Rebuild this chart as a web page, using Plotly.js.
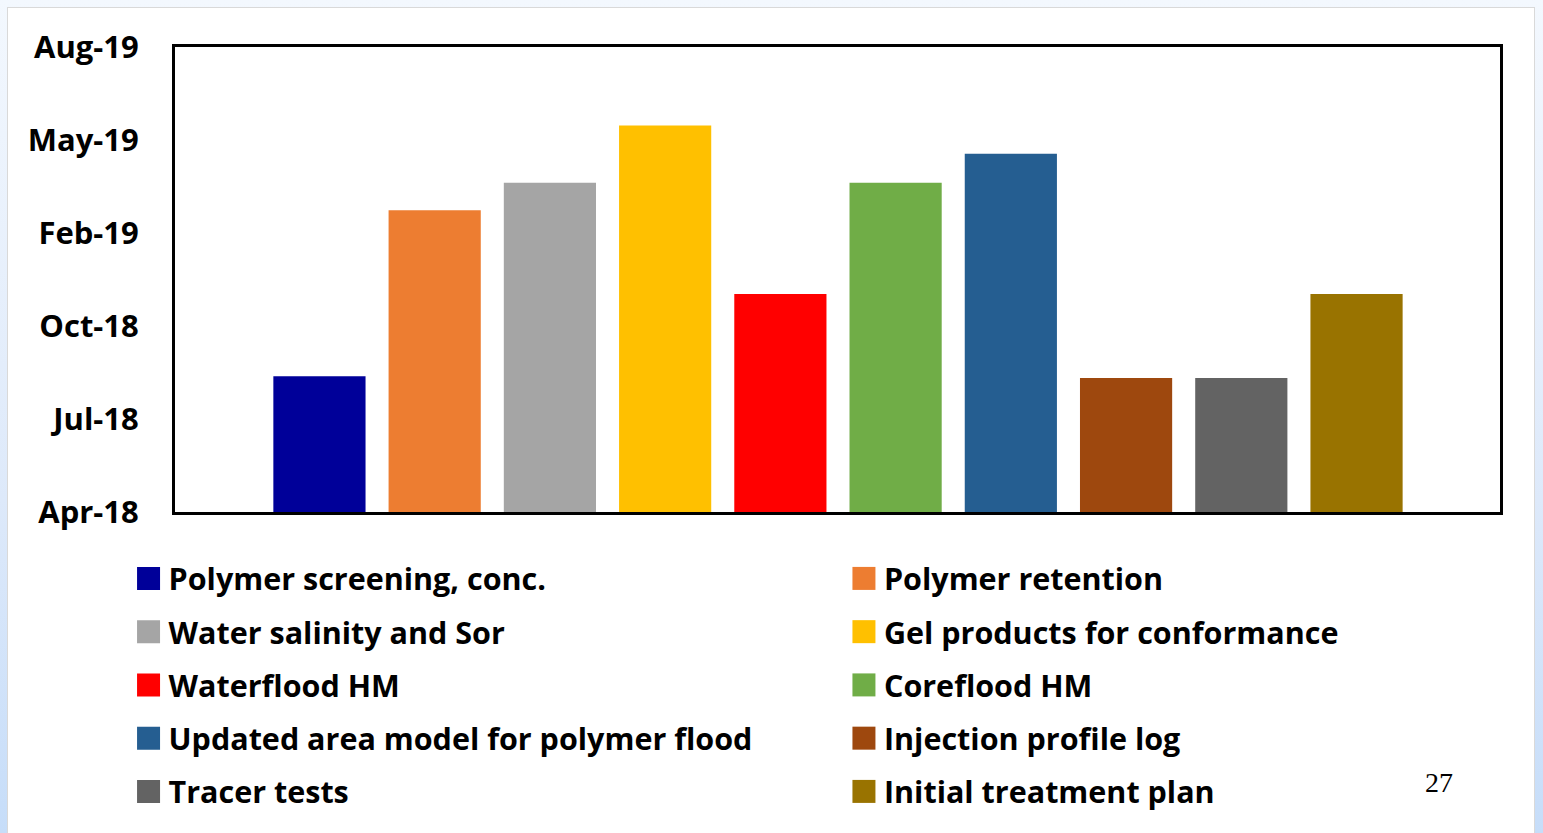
<!DOCTYPE html>
<html>
<head>
<meta charset="utf-8">
<script src="https://cdn.plot.ly/plotly-3.0.1.min.js"></script>
<style>
  html, body { margin: 0; padding: 0; width: 1543px; height: 833px; overflow: hidden;
    background: linear-gradient(to bottom, #f3f8fe 0%, #dde9fa 60%, #c6ddf9 100%); }
  #frame { position: absolute; left: 7px; top: 7px; width: 1526px; height: 826px;
    border-left: 1px solid #d9d9d9; border-top: 1px solid #d9d9d9; border-right: 1px solid #d9d9d9;
    background: #ffffff; }
  #chart { width: 1526px; height: 825px; }
</style>
</head>
<body>
<div id="frame"><div id="chart"></div></div>
<script>
// ---- data ----
const categories = [
  'Polymer screening, conc.', 'Polymer retention', 'Water salinity and Sor',
  'Gel products for conformance', 'Waterflood HM', 'Coreflood HM',
  'Updated area model for polymer flood', 'Injection profile log',
  'Tracer tests', 'Initial treatment plan'
];
const completionDates = [
  '2018-08-28', '2019-02-26', '2019-03-28', '2019-05-30', '2018-11-26',
  '2019-03-28', '2019-04-29', '2018-08-26', '2018-08-26', '2018-11-26'
];
const barColors = [
  '#000099', '#ED7D31', '#A5A5A5', '#FFC000', '#FF0000',
  '#70AD47', '#255E91', '#9E480E', '#636363', '#997300'
];
const tickDates = ['2018-04-01', '2018-07-12', '2018-10-22', '2019-02-01', '2019-05-14', '2019-08-24'];
const tickLabels = ['Apr-18', 'Jul-18', 'Oct-18', 'Feb-19', 'May-19', 'Aug-19'];
const slideNumber = '27';

// ---- traces ----
const traces = categories.map((name, i) => ({
  type: 'bar',
  name: name,
  x: [name],
  y: [completionDates[i]],
  marker: { color: barColors[i], line: { width: 0 } },
  legend: (i % 2 === 0) ? 'legend' : 'legend2',
  legendgroup: 'g' + i,
  hoverinfo: 'name+y'
}));

const fontFam = '"Open Sans", "DejaVu Sans", sans-serif';
const legendCommon = {
  orientation: 'v',
  xref: 'container', yref: 'container',
  xanchor: 'left', yanchor: 'top',
  y: 0.3405,
  bgcolor: 'rgba(0,0,0,0)',
  borderwidth: 0,
  traceorder: 'grouped',
  tracegroupgap: 10.6,
  font: { family: fontFam, size: 30.5, weight: 'bold', color: '#000000' }
};

const layout = {
  width: 1526, height: 825,
  margin: { l: 167, r: 33.5, t: 39, b: 320.5, pad: 0, autoexpand: false },
  paper_bgcolor: '#ffffff',
  plot_bgcolor: '#ffffff',
  barmode: 'overlay',
  bargap: 0.2,
  showlegend: true,
  xaxis: {
    type: 'category',
    categoryorder: 'array',
    categoryarray: categories,
    range: [-1.2535, 10.245],
    showticklabels: false,
    ticks: '',
    showgrid: false,
    zeroline: false,
    showline: true, mirror: true, linecolor: '#000000', linewidth: 3,
    fixedrange: true
  },
  yaxis: {
    type: 'date',
    range: [tickDates[0], tickDates[tickDates.length - 1]],
    tickmode: 'array',
    tickvals: tickDates,
    ticktext: tickLabels,
    ticks: '',
    ticklabelstandoff: 27,
    tickfont: { family: fontFam, size: 31, weight: 'bold', color: '#000000' },
    showgrid: false,
    zeroline: false,
    showline: true, mirror: true, linecolor: '#000000', linewidth: 3,
    fixedrange: true
  },
  legend: Object.assign({}, legendCommon, { x: 0.079 }),
  legend2: Object.assign({}, legendCommon, { x: 0.5478 }),
  annotations: [{
    text: slideNumber,
    xref: 'paper', yref: 'paper',
    x: 0.954, y: -0.5811,
    xanchor: 'center', yanchor: 'middle',
    showarrow: false,
    font: { family: '"Liberation Serif", "DejaVu Serif", serif', size: 28, color: '#000000' }
  }]
};

// enlarge the legend swatches to match the reference's big squares
function enlargeLegendSymbols() {
  document.querySelectorAll('#chart .legendpoints path').forEach(p => {
    p.setAttribute('d', 'M11.5,11.5H-11.5V-11.5H11.5Z');
  });
}

const gd = document.getElementById('chart');
Plotly.newPlot(gd, traces, layout, { displayModeBar: false, responsive: false }).then(() => {
  enlargeLegendSymbols();
  gd.on('plotly_afterplot', enlargeLegendSymbols);
  setTimeout(enlargeLegendSymbols, 50);
  setTimeout(enlargeLegendSymbols, 300);
});
</script>
</body>
</html>
